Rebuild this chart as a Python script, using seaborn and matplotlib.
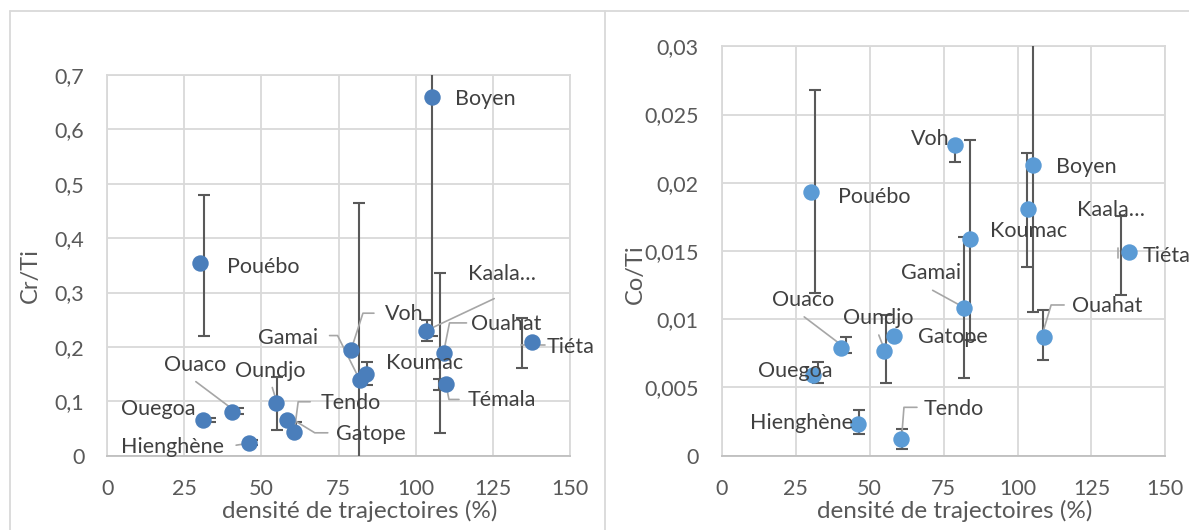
import matplotlib
matplotlib.use('Agg')
import matplotlib.pyplot as plt
import matplotlib.transforms as mtransforms
from matplotlib.lines import Line2D
from matplotlib.ticker import FuncFormatter, MultipleLocator
import numpy as np
import pandas as pd
import seaborn as sns

nan = np.nan

# sites and trajectory density (%)
sites = ['Boyen', 'Pouébo', 'Kaala…', 'Voh', 'Gamai', 'Koumac', 'Ouahat', 'Témala',
         'Tiéta', 'Oundjo', 'Ouaco', 'Ouegoa', 'Tendo', 'Gatope', 'Hienghène']
densite = [105.4, 30.1, 103.4, 79.0, 81.8, 83.9, 109.0, 109.8,
           137.6, 54.8, 40.4, 31.0, 60.6, 58.2, 46.0]

# Cr/Ti with error bar bounds (bars sit at their own x)
cr_ti = [0.660, 0.355, 0.230, 0.194, 0.140, 0.151, 0.189, 0.131,
         0.209, 0.096, 0.081, 0.066, 0.044, 0.066, 0.023]
cr_ti_min = [0.220, 0.220, 0.210, nan, -0.185, 0.130, 0.042, 0.121,
             0.162, 0.048, 0.077, 0.062, 0.044, nan, 0.019]
cr_ti_max = [1.100, 0.480, 0.250, nan, 0.465, 0.173, 0.336, 0.141,
             0.253, 0.145, 0.087, 0.070, 0.0625, nan, 0.029]
cr_bar_x = [105.2, 31.4, 103.6, nan, 81.7, 84.2, 108.0, 107.4,
            134.6, 55.1, 42.4, 33.3, 61.1, nan, 47.0]

# Co/Ti (no value for Témala)
co_ti = [0.0213, 0.01935, 0.0181, 0.0228, 0.0108, 0.01586, 0.0087, nan,
         0.0149, 0.00767, 0.0079, 0.0059, 0.0012, 0.0088, 0.0023]
co_ti_min = [0.0105, 0.0119, 0.0138, 0.0215, 0.0057, 0.0085, 0.0070, nan,
             0.0118, 0.0053, 0.0075, 0.0053, 0.0005, nan, 0.0016]
co_ti_max = [0.0321, 0.0268, 0.0222, 0.0228, 0.0160, 0.0231, 0.0107, nan,
             0.0176, 0.0103, 0.0087, 0.0069, 0.00196, nan, 0.00335]
co_bar_x = [105.3, 31.5, 103.1, 78.9, 81.9, 83.9, 108.5, nan,
            135.0, 55.5, 41.9, 32.7, 61.1, nan, 46.5]

# data label placement (pixel offsets from the point, y pointing down)
cr_labels = {'Boyen': (23, 2), 'Pouébo': (27, 4), 'Kaala…': (42, -57), 'Voh': (34, -36),
             'Gamai': (-102, -42), 'Koumac': (20, -11), 'Ouahat': (27, -29), 'Témala': (22, 16),
             'Tiéta': (15, 5), 'Oundjo': (-41, -32), 'Ouaco': (-68, -47), 'Ouegoa': (-82, -11),
             'Tendo': (26, -29), 'Gatope': (49, 14), 'Hienghène': (-128, 4)}
cr_leaders = {'Kaala…': [(68, -32), (0, 0)], 'Voh': [(23, -37), (12, -37), (0, 0)],
              'Gamai': [(-30, -44), (-22, -44), (0, 0)], 'Ouahat': [(23, -30), (6, -30), (0, 0)],
              'Témala': [(13, 15), (3, 15), (0, 0)], 'Tiéta': [(13, 3), (-11, 3)],
              'Oundjo': [(-4, -16), (0, -3)], 'Ouaco': [(-36, -30), (0, -3)],
              'Tendo': [(16, -30), (4, -30), (1, -7)], 'Gatope': [(41, 13), (28, 13), (5, -1)],
              'Hienghène': [(-13, 2), (0, 0)]}

co_labels = {'Boyen': (23, 2), 'Pouébo': (27, 5), 'Kaala…': (49, 1), 'Voh': (-44, -6),
             'Gamai': (-63, -35), 'Koumac': (20, -8), 'Ouahat': (28, -31), 'Tiéta': (14, 4),
             'Oundjo': (-41, -33), 'Ouaco': (-69, -48), 'Ouegoa': (-55, -4), 'Tendo': (23, -30),
             'Gatope': (24, 1), 'Hienghène': (-108, -1)}
co_leaders = {'Tiéta': [(-11, -4), (-11, 6)], 'Gamai': [(-31, -18), (0, -1)],
              'Ouahat': [(20, -32), (7, -32), (-2, -2)], 'Ouaco': [(-37, -31), (0, -3)],
              'Oundjo': [(-5, -16), (0, -3)], 'Tendo': [(16, -32), (3, -32), (1, -6)]}

sns.set_style('white')
plt.rcParams['font.family'] = ['Lato', 'DejaVu Sans']

GRID = '#D9D9D9'
TXT = '#595959'
W, H = 1189, 530


def comma(v, pos):
    return f'{v:g}'.replace('.', ',')


def draw_panel(ax, vals, lo, hi, bx, ymax, ystep, color, labels, leaders):
    df = pd.DataFrame({'site': sites, 'densite': densite, 'val': vals,
                       'lo': lo, 'hi': hi, 'bx': bx}).dropna(subset=['val'])
    bars = df.dropna(subset=['lo'])
    ax.errorbar(bars['bx'], bars['val'],
                yerr=[bars['val'] - bars['lo'], bars['hi'] - bars['val']],
                fmt='none', ecolor='#595959', elinewidth=1.5, capsize=4.5,
                capthick=1.5, zorder=3)
    sns.scatterplot(data=df, x='densite', y='val', ax=ax, color=color, s=140,
                    linewidth=0, zorder=4)
    for _, r in df.iterrows():
        tr = mtransforms.Affine2D().scale(1, -1) + \
            mtransforms.ScaledTranslation(r['densite'], r['val'], ax.transData)
        if r['site'] in leaders:
            pts = np.array(leaders[r['site']])
            ax.add_line(Line2D(pts[:, 0], pts[:, 1], transform=tr, color='#A6A6A6',
                               lw=1.2, clip_on=False, zorder=3.5))
        dx, dy = labels[r['site']]
        ax.text(dx, dy, r['site'], transform=tr, ha='left', va='center',
                fontsize=15.5, color='#404040', zorder=5)

    ax.set_xlim(0, 150)
    ax.set_ylim(0, ymax)
    ax.xaxis.set_major_locator(MultipleLocator(25))
    ax.yaxis.set_major_locator(MultipleLocator(ystep))
    ax.yaxis.set_major_formatter(FuncFormatter(comma))
    ax.grid(True, color=GRID, lw=1.3)
    ax.set_axisbelow(True)
    for s in ax.spines.values():
        s.set_color(GRID)
        s.set_linewidth(1.3)
    ax.spines['bottom'].set_color('#BFBFBF')
    ax.tick_params(length=0, pad=16.5, labelsize=15.5, labelcolor=TXT)
    ax.set_xlabel('')
    ax.set_ylabel('')


fig = plt.figure(figsize=(W / 100, H / 100), dpi=100)

ax1 = fig.add_axes([107.2 / W, 1 - 455.7 / H, (570 - 107.2) / W, (455.7 - 75) / H])
ax2 = fig.add_axes([721.7 / W, 1 - 455.7 / H, (1165.4 - 721.7) / W, (455.7 - 46.3) / H])

draw_panel(ax1, cr_ti, cr_ti_min, cr_ti_max, cr_bar_x, 0.7, 0.1, '#4A7EBB', cr_labels, cr_leaders)
draw_panel(ax2, co_ti, co_ti_min, co_ti_max, co_bar_x, 0.03, 0.005, '#5B9BD5', co_labels, co_leaders)

# axis titles
fig.text(30.6 / W, 1 - 275.5 / H, 'Cr/Ti', rotation=90, ha='center', va='center', fontsize=17, color=TXT)
fig.text(635.7 / W, 1 - 273.8 / H, 'Co/Ti', rotation=90, ha='center', va='center', fontsize=17, color=TXT)
fig.text(359.7 / W, 1 - 510.5 / H, 'densité de trajectoires (%)', ha='center', va='center', fontsize=17.5, color=TXT)
fig.text(955 / W, 1 - 510.5 / H, 'densité de trajectoires (%)', ha='center', va='center', fontsize=17.5, color=TXT)

# chart frames
frame = dict(color=GRID, lw=1.3, transform=fig.transFigure)
fig.add_artist(Line2D([10 / W, 1], [1 - 10.7 / H, 1 - 10.7 / H], **frame))
fig.add_artist(Line2D([10 / W, 10 / W], [0, 1 - 10.7 / H], **frame))
fig.add_artist(Line2D([605 / W, 605 / W], [0, 1 - 10.7 / H], **frame))

fig.savefig('out.png', dpi=100)
